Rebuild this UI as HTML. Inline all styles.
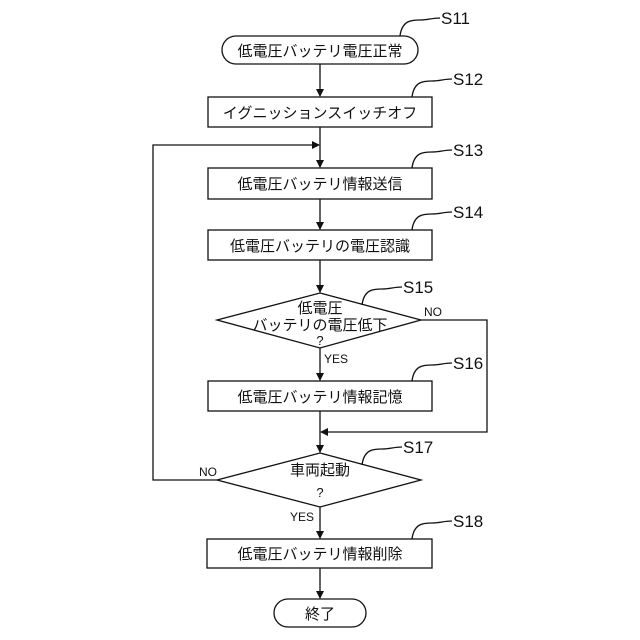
<!DOCTYPE html>
<html><head><meta charset="utf-8"><style>
html,body{margin:0;padding:0;background:#fff;}
svg{display:block;}
text{font-family:"Liberation Sans","Noto Sans CJK JP",sans-serif;fill:#111;}
.j{font-size:15px;text-anchor:middle;}
.s{font-size:17px;}
.y{font-size:12px;}
</style></head><body>
<svg width="640" height="640" viewBox="0 0 640 640" xmlns="http://www.w3.org/2000/svg">
<defs><marker id="a" markerWidth="8" markerHeight="10" refX="7" refY="5" orient="auto" markerUnits="userSpaceOnUse"><path d="M0,1 L8,5 L0,9 z" fill="#111"/></marker></defs>
<g stroke="#111" stroke-width="1.3" fill="none">
<rect x="222" y="36" width="196" height="28" rx="14"/>
<rect x="208" y="97" width="224" height="30"/>
<rect x="208" y="168" width="224" height="31"/>
<rect x="208" y="230" width="224" height="30"/>
<polygon points="320,293 421,320 320,348 217,320"/>
<rect x="208" y="381" width="224" height="30"/>
<polygon points="320,453 421,480 320,507 217,480"/>
<rect x="207" y="539" width="225" height="29"/>
<rect x="274" y="599" width="92" height="28" rx="14"/>
<line x1="320" y1="64" x2="320" y2="96" marker-end="url(#a)"/>
<line x1="320" y1="127" x2="320" y2="167" marker-end="url(#a)"/>
<line x1="320" y1="199" x2="320" y2="229" marker-end="url(#a)"/>
<line x1="320" y1="260" x2="320" y2="292" marker-end="url(#a)"/>
<line x1="320" y1="348" x2="320" y2="380" marker-end="url(#a)"/>
<line x1="320" y1="411" x2="320" y2="452" marker-end="url(#a)"/>
<line x1="320" y1="507" x2="320" y2="538" marker-end="url(#a)"/>
<line x1="320" y1="568" x2="320" y2="598" marker-end="url(#a)"/>
<polyline points="421,320 487,320 487,432 321,432" marker-end="url(#a)"/>
<polyline points="217,480 153,480 153,145 319,145" marker-end="url(#a)"/>
<path d="M400,36 C402,20 412,20 420,20 C428,20 432,18 440,18"/>
<path d="M412,97 C414,81 424,81 432,81 C440,81 444,79 452,79"/>
<path d="M412,168 C414,152 424,152 432,152 C440,152 444,150 452,150"/>
<path d="M412,230 C414,214 424,214 432,214 C440,214 444,212 452,212"/>
<path d="M362,305 C364,289 374,289 382,289 C390,289 394,287 402,287"/>
<path d="M412,381 C414,365 424,365 432,365 C440,365 444,363 452,363"/>
<path d="M362,465 C364,449 374,449 382,449 C390,449 394,447 402,447"/>
<path d="M412,539 C414,523 424,523 432,523 C440,523 444,521 452,521"/>
</g>
<text class="s" x="441" y="24">S11</text>
<text class="s" x="453" y="85">S12</text>
<text class="s" x="453" y="156">S13</text>
<text class="s" x="453" y="218">S14</text>
<text class="s" x="403" y="293">S15</text>
<text class="s" x="453" y="369">S16</text>
<text class="s" x="403" y="453">S17</text>
<text class="s" x="453" y="527">S18</text>
<text class="j" x="320" y="56">低電圧バッテリ電圧正常</text>
<text class="j" x="320" y="118">イグニッションスイッチオフ</text>
<text class="j" x="320" y="189">低電圧バッテリ情報送信</text>
<text class="j" x="320" y="251">低電圧バッテリの電圧認識</text>
<text class="j" x="320" y="313">低電圧</text>
<text class="j" x="320" y="330">バッテリの電圧低下</text>
<text class="j" x="320" y="345" style="font-size:13px">?</text>
<text class="j" x="320" y="402">低電圧バッテリ情報記憶</text>
<text class="j" x="320" y="475">車両起動</text>
<text class="j" x="320" y="497" style="font-size:13px">?</text>
<text class="j" x="320" y="559">低電圧バッテリ情報削除</text>
<text class="j" x="320" y="619">終了</text>
<text class="y" x="424" y="316">NO</text>
<text class="y" x="324" y="363">YES</text>
<text class="y" x="199" y="476">NO</text>
<text class="y" x="290" y="521">YES</text>
</svg>
</body></html>
